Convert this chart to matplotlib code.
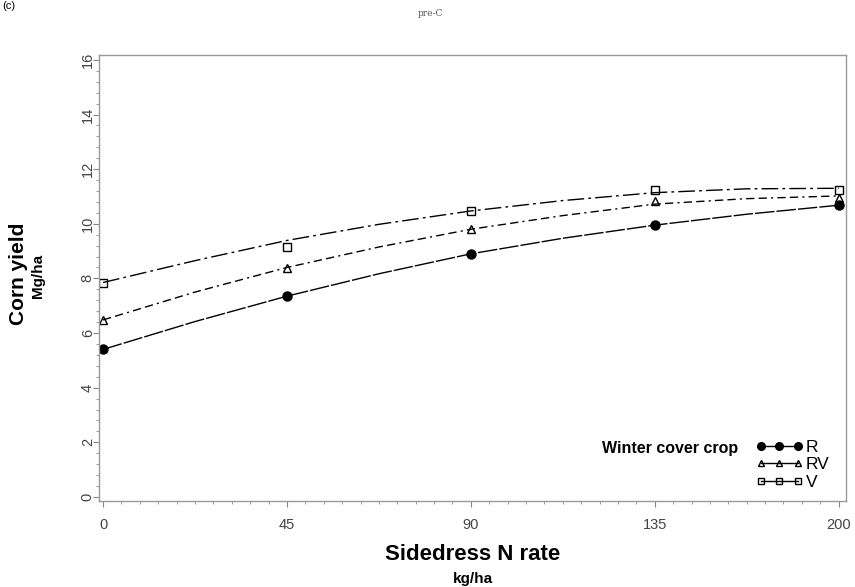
#!/usr/bin/env python

import matplotlib
matplotlib.use('Agg')
import matplotlib.pyplot as plt
from matplotlib.lines import Line2D
from matplotlib.ticker import FixedLocator, MultipleLocator
import numpy as np

matplotlib.rcParams['font.family'] = ['Liberation Sans', 'DejaVu Sans']

# sidedress N rates (kg/ha), drawn at evenly spaced positions
rates = ['0', '45', '90', '135', '200']
xpos = [0, 1, 2, 3, 4]

# observed mean yields (Mg/ha) per winter cover crop
yield_R = [5.41, 7.34, 8.89, 9.95, 10.69]
yield_RV = [6.48, 8.37, 9.80, 10.85, 10.94]
yield_V = [7.85, 9.15, 10.47, 11.22, 11.24]

# fitted response curves, sampled every half step
fit_x = [0, 0.5, 1, 1.5, 2, 2.5, 3, 3.5, 4]
fit_R = [5.40, 6.42, 7.35, 8.17, 8.90, 9.47, 9.95, 10.35, 10.68]
fit_RV = [6.48, 7.50, 8.40, 9.15, 9.80, 10.30, 10.72, 10.92, 11.02]
fit_V = [7.85, 8.65, 9.39, 9.98, 10.47, 10.85, 11.14, 11.28, 11.30]

crops = ['R', 'RV', 'V']

def main():
    fig = plt.figure(figsize=(8.55, 5.87), dpi=100)
    ax = fig.add_axes([99/855., 1-501/587., (846-99)/855., (501-55)/587.])

    styles = {
        'R':  dict(marker='o', mfc='black', ms=6.5, ls=(0, (14, 1.5))),
        'RV': dict(marker='^', mfc='none', ms=5.5, ls=(0, (6, 3, 6, 3, 1.5, 3))),
        'V':  dict(marker='s', mfc='none', ms=6, ls=(0, (12, 3, 2, 3))),
    }
    fits = {'R': fit_R, 'RV': fit_RV, 'V': fit_V}
    obs = {'R': yield_R, 'RV': yield_RV, 'V': yield_V}

    for c in crops:
        st = styles[c]
        ax.plot(fit_x, fits[c], color='black', lw=1.0, ls=st['ls'])
        ax.plot(xpos, obs[c], ls='none', marker=st['marker'], mfc=st['mfc'],
                mec='black', mew=1.0, ms=st['ms'])

    ax.set_xlim(-0.022, 4.04)
    ax.set_ylim(-0.15, 16.18)

    ax.xaxis.set_major_locator(FixedLocator(xpos))
    ax.set_xticklabels(rates)
    ax.xaxis.set_minor_locator(MultipleLocator(0.1))
    ax.yaxis.set_major_locator(MultipleLocator(2))
    ax.yaxis.set_minor_locator(MultipleLocator(0.4))

    for sp in ax.spines.values():
        sp.set_color('#999999')
        sp.set_linewidth(1.0)
    ax.tick_params(which='major', direction='out', length=4, width=0.8,
                   color='#888888', labelsize=10.5, labelcolor='#444444')
    ax.tick_params(which='minor', direction='out', length=2.5, width=0.7,
                   color='#999999')
    ax.tick_params(axis='x', which='major', pad=8)
    ax.tick_params(axis='y', which='major', pad=-1)
    for lab in ax.get_yticklabels():
        lab.set_rotation(90)
        lab.set_va('center')

    # axis titles with units underneath
    fig.text(18/855., 1-274/587., 'Corn yield', rotation=90, fontsize=15,
             fontweight='bold', ha='center', va='center')
    fig.text(38/855., 1-276/587., 'Mg/ha', rotation=90, fontsize=11,
             fontweight='bold', ha='center', va='center')
    fig.text(473/855., 1-555/587., 'Sidedress N rate', fontsize=16,
             fontweight='bold', ha='center', va='center')
    fig.text(473/855., 1-579/587., 'kg/ha', fontsize=11,
             fontweight='bold', ha='center', va='center')

    fig.text(430/855., 1-14/587., 'pre-C', fontsize=6.5, color='#555555',
             family='DejaVu Serif', ha='center', va='center')
    fig.text(2/855., 1-1/587., '(c)', fontsize=8, ha='left', va='top')

    # key
    fig.text(738/855., 1-448/587., 'Winter cover crop', fontsize=11.5,
             fontweight='bold', ha='right', va='center')
    handles = [Line2D([], [], color='black', lw=1.0, marker=styles[c]['marker'],
                      mfc=styles[c]['mfc'], mec='black', ms=styles[c]['ms'] - 1)
               for c in crops]
    ax.legend(handles, crops, loc='upper left', numpoints=3, frameon=False,
              bbox_to_anchor=(756/855., 1-440/587.), bbox_transform=fig.transFigure,
              fontsize=12.5, handlelength=2.7, handletextpad=0.15,
              labelspacing=0.12, borderpad=0, borderaxespad=0)

    fig.savefig('out.png', dpi=100)

if __name__ == "__main__":
    main()
